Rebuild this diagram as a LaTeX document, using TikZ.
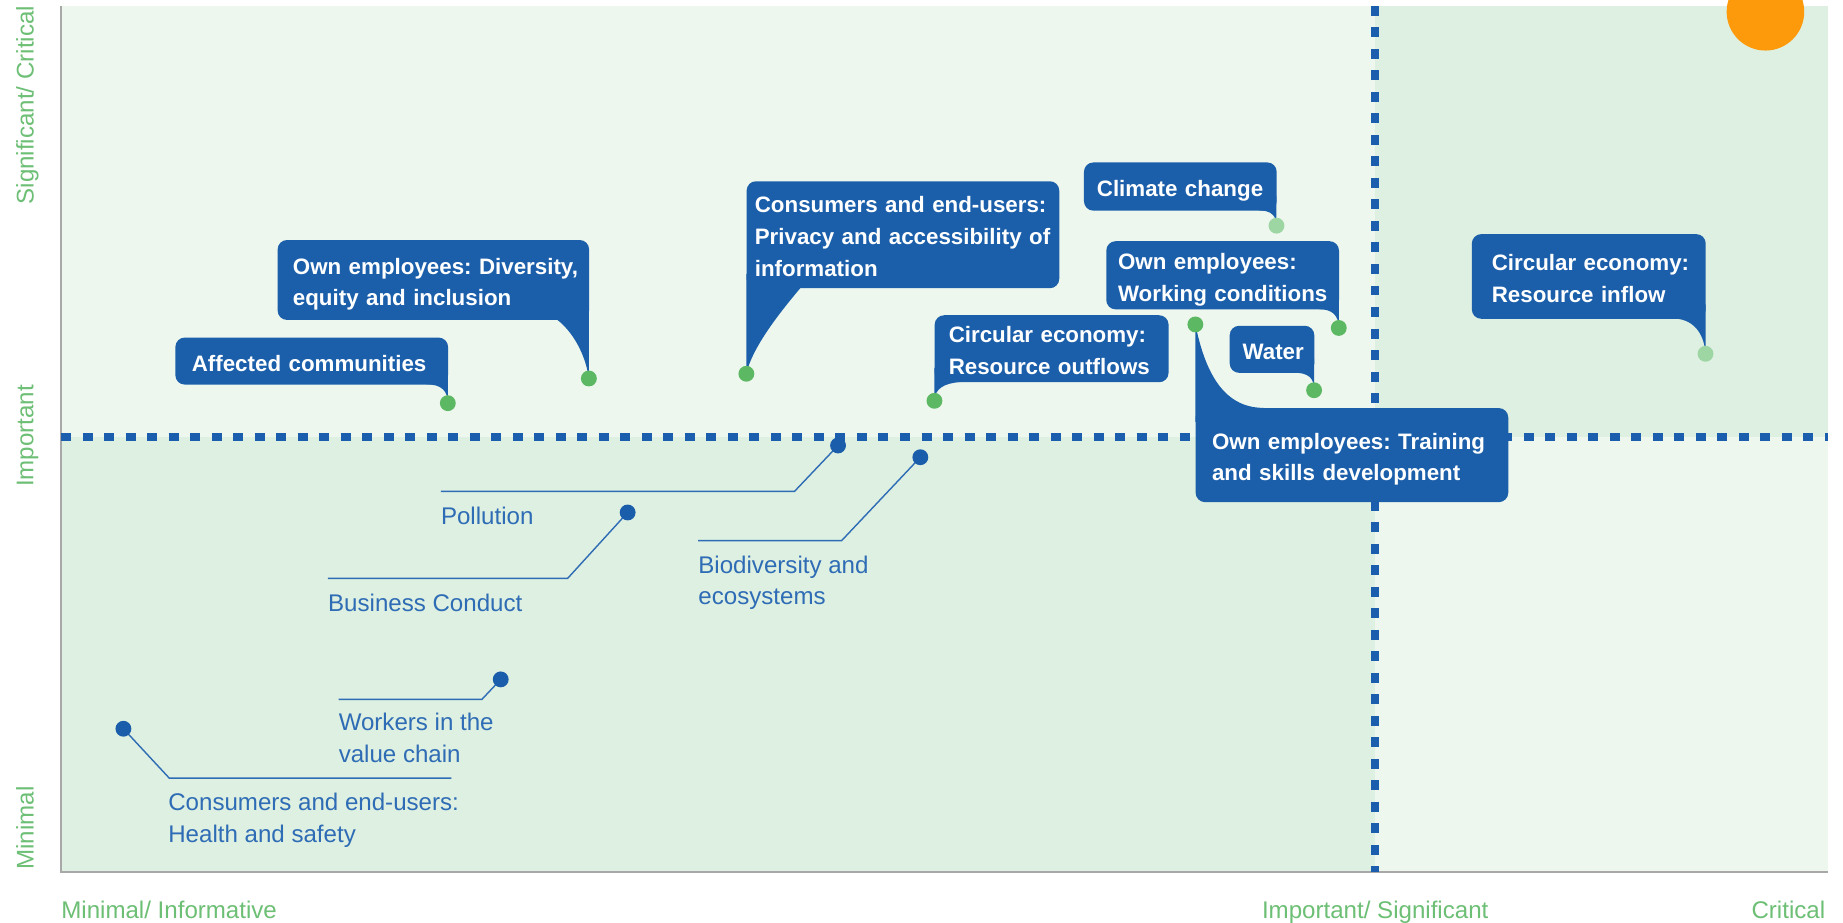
\documentclass[tikz,border=0pt]{standalone}
\usepackage{fontspec}
\setmainfont{Liberation Sans}
\frenchspacing
\definecolor{boxblue}{HTML}{1B5FAA}
\definecolor{lblblue}{HTML}{2E6CB5}
\definecolor{dotblue}{HTML}{1A5DAB}
\definecolor{dotgreen}{HTML}{5DB863}
\definecolor{dotlight}{HTML}{9DD5A3}
\definecolor{axgreen}{HTML}{6DBF75}
\definecolor{fillA}{HTML}{EDF7EE}
\definecolor{fillB}{HTML}{DEF0E1}
\definecolor{dashblue}{HTML}{1A5EAD}
\definecolor{axgray}{HTML}{A8A8A8}
\definecolor{sun}{HTML}{FC9A0C}
\newcommand{\boxfont}{\fontsize{19}{27}\selectfont\bfseries\frenchspacing}
\newcommand{\lblfont}{\fontsize{20.5}{27}\selectfont\frenchspacing}
\newcommand{\bline}[1]{\mbox{\raisebox{-1pt}[20pt][5pt]{#1}}}
\tikzset{
  bubble/.style={rectangle, rounded corners=8pt, fill=boxblue, text=white, font=\boxfont,
    align=left, anchor=north west, inner ysep=0pt},
  dotnode/.style={circle, inner sep=0pt, minimum size=13.5pt},
  lbl/.style={text=lblblue, font=\lblfont, align=left, anchor=north west, inner sep=0pt},
  axlbl/.style={text=axgreen, font=\lblfont, inner sep=0pt},
  leader/.style={draw=lblblue, line width=1.2pt},
  divider/.style={draw=dashblue, line width=7pt, dash pattern=on 8.5pt off 9.8pt},
  tailfill/.style={fill=boxblue},
}
\begin{document}
\begin{tikzpicture}[x=1pt,y=-1pt]
\fill[white] (0,0) rectangle (1568,785);
\useasboundingbox (0,0) rectangle (1568,785);
% quadrants
\fill[fillA] (52,5) rectangle (1170,372);
\fill[fillB] (1170,5) rectangle (1555,372);
\fill[fillB] (52,372) rectangle (1170,742);
\fill[fillA] (1170,372) rectangle (1555,742);
% axes
\draw[axgray, line width=1.5pt] (52,5) -- (52,742) -- (1555,742);
% dividers
\draw[divider] (52,372) -- (1555,372);
\draw[divider] (1170,5) -- (1170,742);
% sun
\begin{scope}
\clip (0,0) rectangle (1568,785);
\fill[sun] (1502,10) circle (33);
\end{scope}
% dot positions
\coordinate (acp) at (381,343);
\coordinate (deip) at (501,322);
\coordinate (privp) at (635,318);
\coordinate (climp) at (1086,192);
\coordinate (workp) at (1139,279);
\coordinate (outfp) at (795,341);
\coordinate (waterp) at (1118,332);
\coordinate (trainp) at (1017,276);
\coordinate (inflowp) at (1451,301);
% tails
\fill[tailfill] (363,315) -- (381,315) -- (acp) .. controls (381,333) and (376,327) .. (363,327) -- cycle;
\fill[tailfill] (474,260) -- (501,260) -- (deip) .. controls (498,300) and (486,281) .. (474,272) -- cycle;
\fill[tailfill] (635,233) -- (681,233) -- (681,245) .. controls (665,264) and (640,295) .. (privp) -- cycle;
\fill[tailfill] (1071,167) -- (1086,167) -- (climp) .. controls (1086,184) and (1082,179) .. (1071,179) -- cycle;
\fill[tailfill] (1122,251) -- (1139,251) -- (workp) .. controls (1139,268) and (1133,263) .. (1122,263) -- cycle;
\fill[tailfill] (795,313) -- (817,313) -- (817,325) .. controls (803,326) and (795,331) .. (outfp) -- cycle;
\fill[tailfill] (1100,305) -- (1118,305) -- (waterp) .. controls (1118,322) and (1114,317) .. (1100,317) -- cycle;
\fill[tailfill] (trainp) .. controls (1025,315) and (1040,347) .. (1075,347) -- (1075,359) -- (1017,359) -- cycle;
\fill[tailfill] (1425,259) -- (1451,259) -- (inflowp) .. controls (1450,285) and (1442,272) .. (1425,271) -- cycle;
% bubbles
\node[bubble, minimum width=232pt, minimum height=40pt, text width=204pt, inner xsep=14pt] (ac) at (149,287) {\bline{Affected communities}};
\node[bubble, minimum width=265pt, minimum height=68pt, text width=239pt, inner xsep=13pt] (dei) at (236,204) {\bline{Own employees: Diversity,}\\\bline{equity and inclusion}};
\node[bubble, minimum width=266pt, minimum height=91pt, text width=252pt, inner xsep=7pt] (priv) at (635,154) {\bline{Consumers and end-users:}\\\bline{Privacy and accessibility of}\\\bline{information}};
\node[bubble, minimum width=164pt, minimum height=41pt, text width=142pt, inner xsep=11pt] (clim) at (922,138) {\bline{Climate change}};
\node[bubble, minimum width=198pt, minimum height=58pt, text width=178pt, inner xsep=10pt] (work) at (941,205) {\bline{Own employees:}\\\bline{Working conditions}};
\node[bubble, minimum width=199pt, minimum height=57pt, text width=175pt, inner xsep=12pt] (outf) at (795,268) {\bline{Circular economy:}\\\bline{Resource outflows}};
\node[bubble, minimum width=72pt, minimum height=40pt, text width=50pt, inner xsep=11pt] (water) at (1046,277) {\bline{Water}};
\node[bubble, minimum width=266pt, minimum height=80pt, text width=238pt, inner xsep=14pt] (train) at (1017,347) {\bline{Own employees: Training}\\\bline{and skills development}};
\node[bubble, minimum width=199pt, minimum height=72pt, text width=165pt, inner xsep=17pt] (inflow) at (1252,199) {\bline{Circular economy:}\\\bline{Resource inflow}};
% bubble dots
\node[dotnode, fill=dotgreen] (acd) at (acp) {};
\node[dotnode, fill=dotgreen] (deid) at (deip) {};
\node[dotnode, fill=dotgreen] (privd) at (privp) {};
\node[dotnode, fill=dotlight] (climd) at (climp) {};
\node[dotnode, fill=dotgreen] (workd) at (workp) {};
\node[dotnode, fill=dotgreen] (outfd) at (outfp) {};
\node[dotnode, fill=dotgreen] (waterd) at (waterp) {};
\node[dotnode, fill=dotgreen] (traind) at (trainp) {};
\node[dotnode, fill=dotlight] (inflowd) at (inflowp) {};
% minor topics
\coordinate (polk) at (676,418); \coordinate (pole) at (375,418);
\coordinate (busk) at (483,492); \coordinate (buse) at (279,492);
\coordinate (biok) at (716,460); \coordinate (bioe) at (594,460);
\coordinate (wrkk) at (410,595); \coordinate (wrke) at (288,595);
\coordinate (hsk) at (144,662); \coordinate (hse) at (384,662);
\coordinate (polp) at (713,379);
\coordinate (busp) at (534,436);
\coordinate (biop) at (783,389);
\coordinate (wrkp) at (426,578);
\coordinate (hsp) at (105,620);
\draw[leader] (polp) -- (polk) -- (pole);
\draw[leader] (busp) -- (busk) -- (buse);
\draw[leader] (biop) -- (biok) -- (bioe);
\draw[leader] (wrkp) -- (wrkk) -- (wrke);
\draw[leader] (hsp) -- (hsk) -- (hse);
\node[dotnode, fill=dotblue] (pold) at (polp) {};
\node[dotnode, fill=dotblue] (busd) at (busp) {};
\node[dotnode, fill=dotblue] (biod) at (biop) {};
\node[dotnode, fill=dotblue] (wrkd) at (wrkp) {};
\node[dotnode, fill=dotblue] (hsd) at (hsp) {};
\node[lbl] (pol) at (375,431) {Pollution};
\node[lbl] (bus) at (279,505) {Business Conduct};
\node[lbl] (bio) at (594,472.5) {Biodiversity and\\ecosystems};
\node[lbl] (wrk) at (288,606.5) {Workers in the\\value chain};
\node[lbl] (hs) at (143,674.5) {Consumers and end-users:\\Health and safety};
% axis labels
\node[axlbl, anchor=north west] (xmin) at (52,766) {Minimal/ Informative};
\node[axlbl, anchor=north] (xmid) at (1170,766) {Important/ Significant};
\node[axlbl, anchor=north east] (xmax) at (1553,766) {Critical};
\node[axlbl, rotate=90, anchor=north west] (ymax) at (13.5,174) {Significant/ Critical};
\node[axlbl, rotate=90, anchor=north] (ymid) at (14,371) {Important};
\node[axlbl, rotate=90, anchor=north west] (ymin) at (13.5,740) {Minimal};
\end{tikzpicture}
\end{document}
